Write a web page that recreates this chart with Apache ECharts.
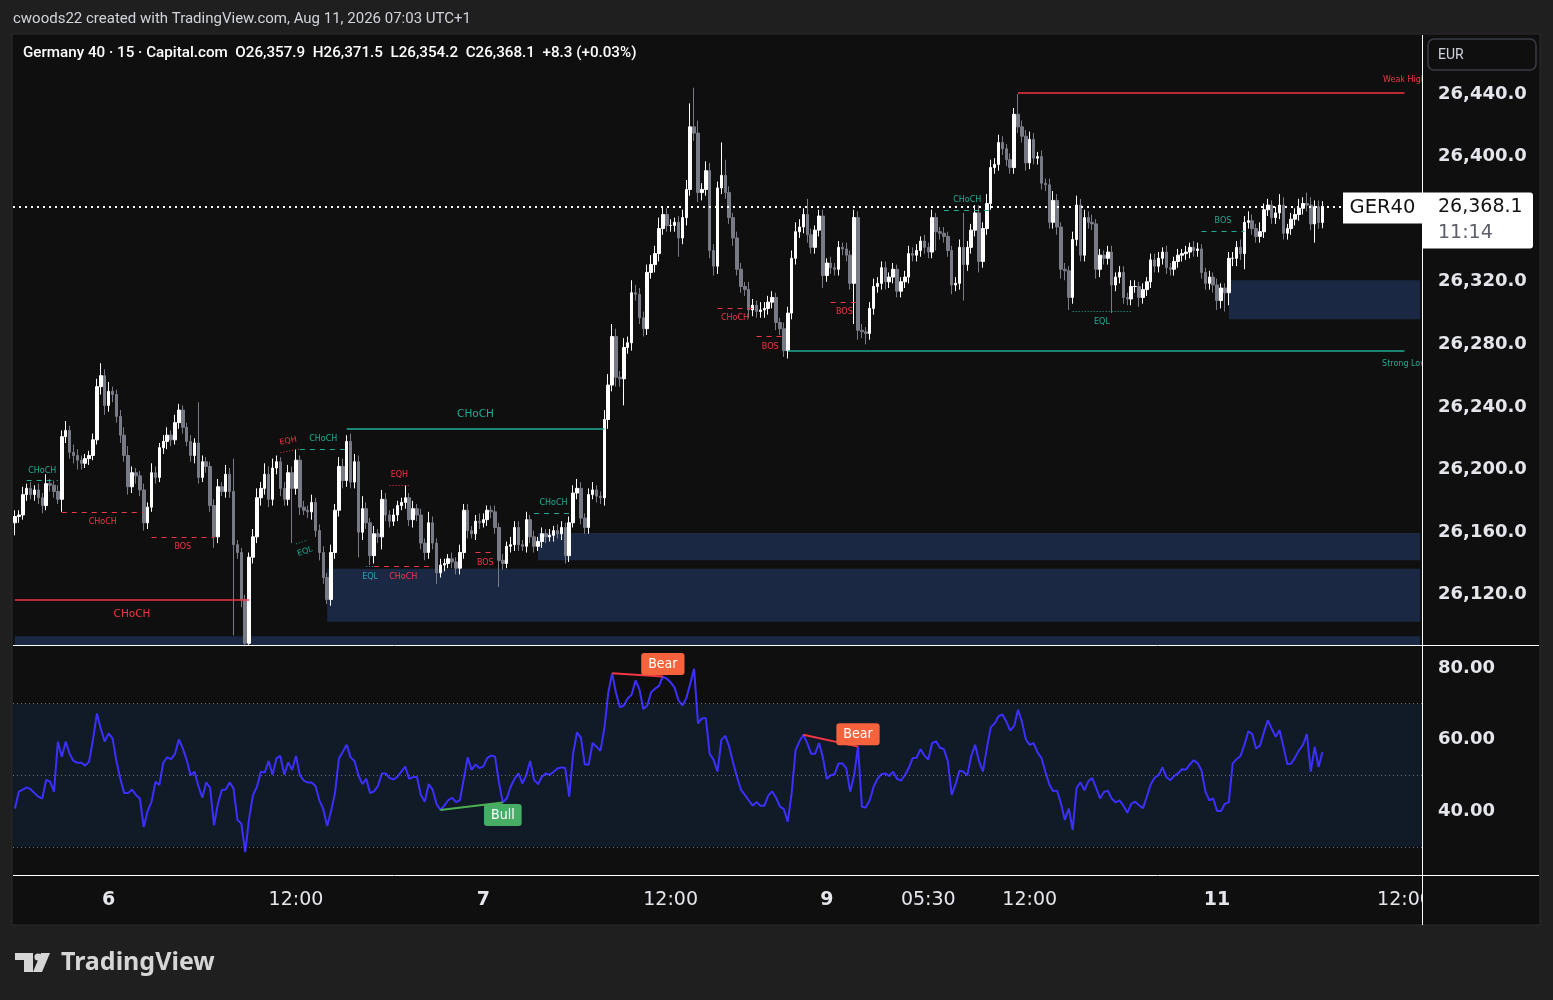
<!DOCTYPE html>
<html><head><meta charset="utf-8">
<script src="https://cdn.jsdelivr.net/npm/echarts@6/dist/echarts.min.js"></script>
<style>html,body{margin:0;padding:0;background:#1f1f1f;}#c{width:1553px;height:1000px;}</style>
</head><body><div id="c"></div>
<script>
// ---------- DATA ----------
const firstOpen = 26166;
const closes = [
26170,26171,26184,26188,26184,26187,26182,26177,26191,26190,
26186,26181,26221,26225,26211,26209,26206,26204,26207,26209,
26219,26253,26260,26241,26250,26248,26234,26222,26209,26189,
26198,26196,26187,26166,26176,26198,26195,26214,26218,26222,
26219,26230,26238,26227,26218,26209,26217,26195,26205,26202,
26177,26157,26189,26186,26197,26186,26152,26147,26117,26089,
26144,26157,26182,26188,26197,26181,26201,26205,26188,26181,
26198,26188,26206,26176,26174,26173,26179,26161,26147,26131,
26117,26147,26174,26202,26193,26218,26192,26205,26160,26175,
26166,26145,26159,26157,26181,26171,26167,26171,26177,26179,
26182,26168,26175,26171,26153,26147,26166,26153,26134,26139,
26140,26143,26141,26137,26147,26174,26161,26159,26167,26166,
26168,26174,26173,26163,26142,26140,26151,26152,26163,26152,
26151,26168,26157,26151,26154,26159,26157,26158,26161,26159,
26163,26145,26166,26185,26188,26169,26163,26184,26187,26183,
26182,26232,26254,26285,26259,26258,26278,26281,26313,26312,
26297,26290,26326,26331,26338,26354,26363,26356,26356,26358,
26348,26361,26379,26419,26415,26377,26379,26391,26340,26330,
26380,26388,26377,26361,26348,26328,26317,26315,26302,26305,
26301,26302,26303,26307,26310,26294,26290,26276,26300,26335,
26352,26355,26363,26350,26342,26353,26362,26324,26332,26329,
26328,26342,26341,26337,26319,26361,26289,26288,26287,26303,
26317,26319,26329,26320,26323,26328,26314,26320,26323,26338,
26337,26340,26346,26342,26339,26361,26352,26351,26349,26340,
26318,26319,26342,26331,26342,26353,26364,26333,26354,26370,
26393,26395,26409,26405,26398,26393,26427,26419,26413,26396,
26411,26399,26400,26383,26382,26358,26372,26355,26328,26327,
26310,26347,26369,26337,26361,26358,26357,26328,26337,26335,
26339,26318,26323,26326,26310,26309,26317,26317,26310,26315,
26320,26334,26330,26335,26339,26329,26328,26333,26337,26338,
26339,26342,26340,26341,26326,26319,26323,26318,26308,26316,
26313,26335,26335,26342,26338,26358,26359,26354,26349,26352,
26366,26369,26361,26364,26369,26351,26354,26360,26363,26367,
26370,26369,26357,26368,26357.9,26368.1
];
const wickUp = [
4,3,5,3,4,3,4,3,6,3, 3,4,4,6,3,5,4,3,3,3, 4,5,8,4,6,3,3,4,5,6, 4,3,3,4,3,6,4,3,4,5,
3,5,4,3,3,4,3,26,4,3, 3,4,5,3,6,4,21,3,3,3, 3,5,6,4,7,5,6,4,3,4, 5,4,7,3,4,3,5,3,4,4,
3,5,4,6,5,4,5,5,4,8, 4,3,5,3,6,4,3,4,3,3, 8,3,5,3,4,3,7,4,3,4, 3,3,4,3,5,4,4,3,4,5,
4,3,3,4,3,4,3,5,4,4, 3,5,3,4,3,4,3,4,3,4, 4,3,4,5,6,4,3,4,5,3, 3,6,7,8,5,4,6,4,8,5,
4,4,5,6,5,7,5,4,4,3, 4,5,6,15,25,8,4,6,5,4, 4,21,10,4,3,4,4,3,5,4, 3,5,4,4,4,3,3,4,4,5,
6,5,4,10,4,3,4,4,3,4, 3,4,3,4,3,5,4,4,3,4, 5,4,4,4,3,4,3,3,4,5, 4,4,3,4,3,5,3,3,4,3,
3,4,5,22,4,4,5,5,4,6, 5,4,5,4,3,4,4,13,4,4, 5,4,3,4,3,4,6,4,3,4, 3,5,6,4,5,4,5,3,4,3,
4,4,3,4,4,3,4,4,3,4, 3,4,4,4,3,4,3,3,4,3, 4,3,4,4,3,3,4,3,4,3, 3,4,4,4,5,4,6,4,3,6,
4,4,3,4,7,5,3,4,4,6, 4,7,5,4,4,3.4
];
const wickDown = [
8,4,3,4,3,4,4,5,3,4, 4,3,8,4,4,5,6,4,3,4, 3,3,5,6,4,5,4,5,4,5, 4,5,4,5,4,3,4,3,4,5,
4,3,4,4,3,4,5,4,3,4, 4,7,4,3,4,4,58,4,5,2, 1,4,4,5,4,5,4,4,5,4, 4,35,4,5,3,4,5,4,5,4,
3,4,4,4,5,4,4,4,16,5, 4,6,5,4,8,4,4,3,4,3, 4,4,5,4,4,5,4,4,7,3, 4,3,4,4,4,4,5,3,4,4,
3,4,4,4,17,4,3,4,4,4, 3,4,4,4,3,4,4,3,4,3, 4,5,4,3,4,4,4,4,3,4, 4,5,6,4,6,5,17,4,5,4,
4,5,4,4,5,5,4,4,4,4, 12,4,5,4,5,6,5,4,5,6, 5,4,4,4,5,4,4,4,5,4, 4,4,5,4,4,5,4,4,5,4,
4,4,4,5,4,4,4,8,4,4, 4,4,4,4,4,26,6,4,7,4, 4,4,4,5,4,4,4,4,4,4, 4,4,4,4,4,4,12,4,4,4,
6,4,4,23,4,4,4,7,4,4, 4,4,4,4,4,4,4,4,4,5, 4,4,4,4,4,4,4,5,6,6, 8,4,4,4,4,4,4,6,5,4,
4,18,4,4,4,4,4,4,6,4, 4,4,4,4,4,4,4,4,4,4, 4,4,4,4,4,4,4,5,6,5, 12,8,5,5,4,10,4,4,4,4,
4,4,4,4,4,4,4,4,4,4, 4,4,4,12,4,3.7
];
const rsi = [
40.7,45.4,46.0,46.6,46.1,45.0,44.0,43.5,48.7,48.2,
45.4,59.4,55.2,59.4,56.0,54.0,53.5,53.5,52.7,53.8,
60.0,67.3,63.0,59.4,61.7,60.3,54.0,49.0,45.0,45.0,
46.0,44.5,43.5,35.5,40.0,42.6,48.2,47.3,53.5,55.0,
54.5,56.0,60.0,57.5,54.3,50.0,51.0,47.0,43.7,48.0,
46.5,36.0,42.0,45.9,46.0,48.0,46.3,37.5,36.5,28.5,
38.0,44.5,46.8,51.0,50.8,54.0,50.1,54.7,55.4,50.1,
53.6,51.5,55.4,50.0,48.5,48.0,48.0,47.0,43.0,40.5,
35.8,40.0,45.0,54.7,56.6,58.5,55.0,54.0,50.0,47.5,
49.0,45.0,45.5,47.0,50.5,50.5,49.2,48.8,49.6,51.0,
52.4,49.0,49.5,49.5,44.5,42.6,47.5,46.0,42.0,40.3,
41.5,43.0,43.7,42.5,43.0,49.0,55.0,51.5,53.0,52.0,
52.5,54.8,55.5,55.2,48.0,42.4,43.5,46.8,49.0,50.5,
47.7,50.0,54.0,48.7,47.5,49.6,50.5,50.1,51.0,51.9,
52.2,52.0,44.0,56.0,62.0,60.5,53.0,53.0,59.0,58.0,
56.8,63.0,73.0,78.5,73.0,69.0,69.5,71.5,72.5,76.5,
74.0,68.5,69.5,73.2,74.2,75.0,77.6,77.0,76.0,74.5,
71.0,69.5,71.5,75.5,79.8,64.5,65.9,66.0,56.0,54.3,
51.0,59.9,61.0,58.0,53.5,49.5,46.0,44.5,43.0,41.5,
42.5,41.5,41.5,44.3,45.5,43.7,41.2,40.5,37.0,45.0,
57.0,59.5,61.3,59.0,56.0,56.0,59.0,55.0,49.0,50.0,
50.3,53.3,53.3,51.9,45.4,50.0,58.0,41.2,41.0,43.0,
46.8,49.0,50.3,50.5,49.8,51.0,49.0,48.5,50.0,52.0,
54.8,54.9,57.3,55.5,54.4,59.0,59.5,57.7,57.3,54.0,
44.5,47.5,51.3,51.0,50.0,55.3,58.5,54.0,51.0,57.5,
63.4,64.5,66.5,67.0,65.0,62.5,63.8,68.3,65.0,60.0,
58.5,59.0,56.4,54.8,51.0,47.5,45.5,45.7,42.1,37.5,
40.7,34.7,46.5,48.0,45.8,48.3,49.2,46.5,43.5,45.3,
45.7,43.5,42.4,43.0,41.5,39.5,42.0,42.6,41.6,40.8,
44.0,47.5,49.3,50.0,52.2,49.5,48.6,49.8,50.5,51.7,
51.6,53.0,54.2,53.4,51.4,45.5,43.0,43.5,40.0,40.0,
42.0,42.5,53.3,54.5,55.4,58.5,62.3,61.5,57.5,58.3,
62.0,65.4,63.0,60.8,62.6,58.0,53.1,53.3,55.0,57.0,
58.5,61.5,51.0,57.9,52.3,56.5
];
const slotCount = 361;
const tickIdx  = [24, 72, 120, 168, 208, 234, 260, 308, 356];
const tickText = ['6','12:00','7','12:00','9','05:30','12:00','11','12:00'];
const tickBold = [true,false,true,false,true,false,false,true,false];
const priceTicks = [26120,26160,26200,26240,26280,26320,26360,26400,26440];
const rsiTicks = [40,60,80];
const lastClose = 26368.1;
// structure lines: [x1, price1, x2, price2, kind, text, side]
const smcLines = [
 [3,26193,11,26193,'gd','CHoCH','top'],
 [12,26173,33,26173,'rd','CHoCH','bottom'],
 [35,26157,51,26157,'rd','BOS','bottom'],
 [0,26117,60,26117,'rs','CHoCH','bottom'],
 [68,26210.8,73,26213.2,'rdot','EQH','top'],
 [73,26213,85,26213,'gd','CHoCH','top'],
 [72,26152.5,75,26155,'gdot','EQL','bottom'],
 [85,26226,151,26226,'gs','CHoCH','top'],
 [96,26190,101,26190,'rdot','EQH','top'],
 [92,26138,107,26138,'rd','CHoCH','bottom'],
 [90,26138,92,26138,'tdot','EQL','bottom'],
 [118,26147,123,26147,'rd','BOS','bottom'],
 [133,26172,143,26172,'gd','CHoCH','top'],
 [180,26303,189,26303,'rd','CHoCH','bottom'],
 [190,26285,197,26285,'rd','BOS','bottom'],
 [198,26276,356,26276,'gs','Strong Low','endBottom'],
 [209,26307,216,26307,'rd','BOS','bottom'],
 [238,26366,250,26366,'gd','CHoCH','top'],
 [257,26440.6,356,26440.6,'rs','Weak High','endTop'],
 [271,26301,286,26301,'gdot','EQL','bottom'],
 [304,26352.5,315,26352.5,'gd','BOS','top']
];
// zones: [x1, priceTop, x2, priceBottom]
const zones = [
 [134,26159.4,360,26142],
 [80,26136.6,360,26102.7],
 [0,26093.5,360,26087.9],
 [311,26321,360,26296]
];
// RSI divergences: [x1, rsi1, x2, rsi2, type]
const divergences = [
 [153,78.5,166,77.6,'Bear'],
 [202,61.3,216,58.0,'Bear'],
 [109,40.3,125,42.4,'Bull']
];

// ---------- CHART ----------
const GREEN='#22ab94', RED='#f23645', TEAL='#2b9fb5';
const cats = Array.from({length: slotCount}, (_, i) => String(i));
const ohlc = closes.map((c, i) => {
  const o = i === 0 ? firstOpen : closes[i - 1];
  return [o, c, Math.min(o, c) - wickDown[i], Math.max(o, c) + wickUp[i]];
});
const styleOf = k => {
  const color = k[0] === 'g' ? GREEN : (k[0] === 'r' ? RED : TEAL);
  let type = 'solid', width = 1.5;
  if (k.endsWith('d') && !k.endsWith('dot')) { type = [5, 5]; width = 1; }
  if (k.endsWith('dot')) { type = [1, 2]; width = 1; }
  return {color, type, width};
};
const posMap = {top:'insideMiddleTop', bottom:'insideMiddleBottom'};
const smcData = smcLines.map(([x1,p1,x2,p2,k,t,side]) => {
  const s = styleOf(k);
  const major = (k === 'gs' || k === 'rs') && t === 'CHoCH';
  const inline = !!posMap[side];
  return [{coord:[x1,p1], lineStyle:{color:s.color, type:s.type, width:s.width},
           label:{show:inline, formatter:t, position:posMap[side] || 'end', color:s.color,
                  fontSize: major ? 10.5 : 8, fontFamily:'DejaVu Sans', distance: major ? 9 : 6}},
          {coord:[x2,p2]}];
});
const endLabels = smcLines.filter(l => !posMap[l[6]]).map(([x1,p1,x2,p2,k,t,side]) => ({
  coord:[x2,p2], label:{show:true, formatter:t, position: side==='endTop'?'top':'bottom', distance:9,
    color:styleOf(k).color, fontSize:8, fontFamily:'DejaVu Sans'}}));
const zoneData = zones.map(([x1,p1,x2,p2]) => [{coord:[x1,p1], itemStyle:{color:'#1b2843'}}, {coord:[x2,p2]}]);
const divLines = divergences.map(([x1,r1,x2,r2,t]) => [{coord:[x1,r1], lineStyle:{color: t==='Bear'?RED:'#4caf50', width:2, type:'solid'}, label:{show:false}}, {coord:[x2,r2]}]);
const divPoints = divergences.map(([x1,r1,x2,r2,t]) => ({coord:[x2,r2], label:{
  show:true, formatter:t, position: t==='Bear'?'top':'bottom', distance:1,
  backgroundColor: t==='Bear'?'#f6623b':'#47ad64', color:'#ffffff', fontSize:14, lineHeight:16,
  padding:[3,7,3,7], borderRadius:3, fontFamily:"'DejaVu Sans Condensed','Liberation Sans Narrow',Roboto"}}));

const chart = echarts.init(document.getElementById('c'));
const axisTxt = '#e4e6ec';
const option = {
  backgroundColor:'#1f1f1f',
  animation:false,
  textStyle:{fontFamily:'DejaVu Sans'},
  grid:[
    {left:13, top:35, width:1409, height:610},
    {left:13, top:646, width:1409, height:229}
  ],
  xAxis:[
    {type:'category', gridIndex:0, data:cats, boundaryGap:true, axisLine:{show:false}, axisTick:{show:false}, axisLabel:{show:false}, splitLine:{show:false}},
    {type:'category', gridIndex:1, data:cats, boundaryGap:true, axisLine:{show:false}, axisTick:{show:false}, splitLine:{show:false},
     axisLabel:{show:true, margin:16, interval:(i)=>tickIdx.indexOf(i)>=0,
       formatter:(v,i)=>{const k=tickIdx.indexOf(i); return k<0?'':(tickBold[k]?'{b|'+tickText[k]+'}':'{n|'+tickText[k]+'}');},
       rich:{b:{fontWeight:'bold',fontSize:19,fontFamily:'DejaVu Sans',color:axisTxt},
             n:{fontSize:19,fontFamily:'DejaVu Sans',color:axisTxt}}}}
  ],
  yAxis:[
    {type:'value', gridIndex:0, position:'right', min:26087.9, max:26477.7, scale:true,
     splitLine:{show:false}, axisLine:{show:false}, axisTick:{show:false},
     axisLabel:{customValues:priceTicks, margin:16, color:axisTxt, fontWeight:'bold', fontSize:18, fontFamily:'DejaVu Sans',
       padding:[3,0,0,0],
       formatter:v=>v.toLocaleString('en-US',{minimumFractionDigits:1, maximumFractionDigits:1})}},
    {type:'value', gridIndex:1, position:'right', min:22.1, max:86.15, scale:true,
     splitLine:{show:false}, axisLine:{show:false}, axisTick:{show:false},
     axisLabel:{customValues:rsiTicks, margin:16, color:axisTxt, fontWeight:'bold', fontSize:18, fontFamily:'DejaVu Sans',
       padding:[3,0,0,0], formatter:v=>v.toFixed(2)}}
  ],
  series:[
    {type:'line', xAxisIndex:0, yAxisIndex:0, data:[], z:1, silent:true,
     markArea:{silent:true, data:zoneData}},
    {type:'candlestick', xAxisIndex:0, yAxisIndex:0, data:ohlc, z:3, barWidth:3,
     itemStyle:{color:'#ffffff', color0:'#787b86', borderColor:'#ffffff', borderColor0:'#787b86', borderWidth:1},
     markLine:{silent:true, symbol:['none','none'],
       data: smcData.concat([{yAxis:lastClose, lineStyle:{color:'#ffffff', type:[2,4], width:2}, label:{show:false}}])},
     markPoint:{silent:true, symbol:'circle', symbolSize:1, itemStyle:{color:'rgba(0,0,0,0)'}, data:endLabels}},
    {type:'line', xAxisIndex:1, yAxisIndex:1, data:[], z:1, silent:true,
     markArea:{silent:true, data:[[{yAxis:70, itemStyle:{color:'#111a27'}},{yAxis:30}]]},
     markLine:{silent:true, symbol:['none','none'], label:{show:false},
       lineStyle:{color:'#6f727c', type:[1,3], width:1},
       data:[{yAxis:70},{yAxis:50},{yAxis:30}]}},
    {type:'line', xAxisIndex:1, yAxisIndex:1, data:rsi, z:3, showSymbol:false, smooth:false,
     lineStyle:{color:'#3b30ff', width:2}, itemStyle:{color:'#3b30ff'},
     markLine:{silent:true, symbol:['none','none'], data:divLines},
     markPoint:{silent:true, symbol:'circle', symbolSize:1, itemStyle:{color:'rgba(0,0,0,0)'}, data:divPoints}}
  ]
};
chart.setOption(option);

const y0 = chart.convertToPixel({yAxisIndex:0}, lastClose);
const elements = [
  {type:'rect', z:-10, shape:{x:12, y:34, width:1528, height:891}, style:{fill:'#0f0f0f', stroke:'#2c2c2c', lineWidth:1}},
  {type:'text', z:100, x:13, y:19, style:{text:'cwoods22 created with TradingView.com, Aug 11, 2026 07:03 UTC+1', fill:'#d1d4dc', font:'15px Roboto', verticalAlign:'middle'}},
  {type:'text', z:100, x:23, y:53, style:{text:'Germany 40 · 15 · Capital.com  O26,357.9  H26,371.5  L26,354.2  C26,368.1  +8.3 (+0.03%)', fill:'#ffffff', font:'500 15.2px Roboto', verticalAlign:'middle'}},
  {type:'rect', z:100, shape:{x:1428, y:39, width:108, height:31, r:6}, style:{fill:'#0f0f0f', stroke:'#3a3d45', lineWidth:1.5}},
  {type:'text', z:101, x:1438, y:55, style:{text:'EUR', fill:'#d1d4dc', font:'14px Roboto', verticalAlign:'middle'}},
  {type:'rect', z:100, shape:{x:1423, y:876, width:116, height:48}, style:{fill:'#0f0f0f'}},
  {type:'rect', z:100, shape:{x:1423, y:71, width:116, height:13}, style:{fill:'#0f0f0f'}},
  {type:'rect', z:100, shape:{x:1423, y:356, width:116, height:14}, style:{fill:'#0f0f0f'}},
  {type:'line', z:102, shape:{x1:13, y1:645.5, x2:1539, y2:645.5}, style:{stroke:'#ffffff', lineWidth:1}},
  {type:'line', z:102, shape:{x1:13, y1:875.5, x2:1539, y2:875.5}, style:{stroke:'#ffffff', lineWidth:1}},
  {type:'line', z:102, shape:{x1:1422.5, y1:35, x2:1422.5, y2:925}, style:{stroke:'#ffffff', lineWidth:1}},
  {type:'rect', z:103, shape:{x:1343, y:y0-14, width:79, height:31}, style:{fill:'#ffffff'}},
  {type:'text', z:104, x:1382.5, y:y0+1.5, style:{text:'GER40', fill:'#131313', font:'19.5px DejaVu Sans', align:'center', verticalAlign:'middle'}},
  {type:'rect', z:103, shape:{x:1423, y:y0-14, width:110, height:56, r:[0,3,3,0]}, style:{fill:'#ffffff'}},
  {type:'text', z:104, x:1438, y:y0+1, style:{text:'26,368.1', fill:'#131313', font:'19px DejaVu Sans', verticalAlign:'middle'}},
  {type:'text', z:104, x:1438, y:y0+27, style:{text:'11:14', fill:'#5d606b', font:'19px DejaVu Sans', verticalAlign:'middle'}},
  // TradingView logo
  {type:'rect', z:100, shape:{x:15, y:953, width:18, height:7}, style:{fill:'#d6d6d6'}},
  {type:'rect', z:100, shape:{x:24, y:953, width:9, height:19}, style:{fill:'#d6d6d6'}},
  {type:'circle', z:100, shape:{cx:38, cy:957, r:3.6}, style:{fill:'#d6d6d6'}},
  {type:'polygon', z:100, shape:{points:[[41,953],[50,953],[42,972],[33,972]]}, style:{fill:'#d6d6d6'}},
  {type:'text', z:100, x:61, y:963, style:{text:'TradingView', fill:'#d6d6d6', font:'bold 25px "Noto Sans"', verticalAlign:'middle'}}
];
chart.setOption({graphic:{elements}});
</script></body></html>
